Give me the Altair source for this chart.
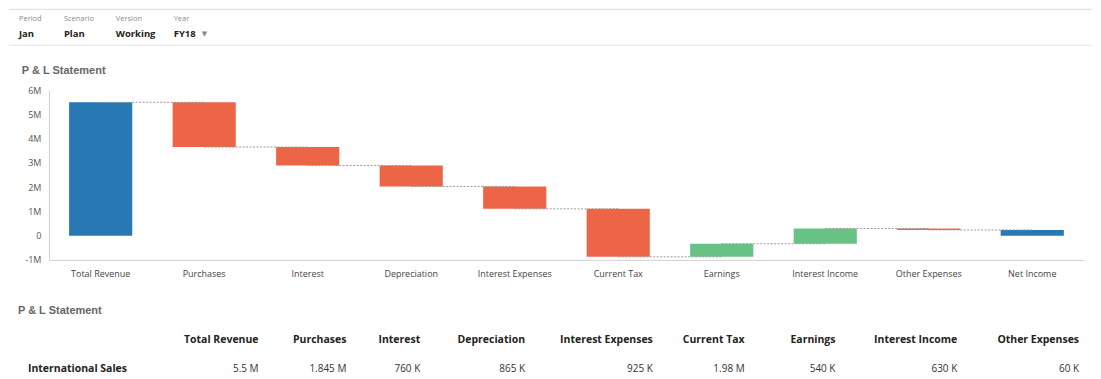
import altair as alt
import pandas as pd

# ---------------- data ----------------
hdr_labels = ["Period", "Scenario", "Version", "Year"]
hdr_values = ["Jan", "Plan", "Working", "FY18"]

categories = ["Total Revenue", "Purchases", "Interest", "Depreciation",
              "Interest Expenses", "Current Tax", "Earnings", "Interest Income",
              "Other Expenses", "Net Income"]
amounts = [5500000, -1845000, -760000, -865000, -925000, -1980000,
           540000, 630000, -60000, 0]
kinds = ["total", "dec", "dec", "dec", "dec", "dec", "inc", "inc", "dec", "total"]
y_ticks = [-1000000, 0, 1000000, 2000000, 3000000, 4000000, 5000000, 6000000]

table_cols = ["Total Revenue", "Purchases", "Interest", "Depreciation",
              "Interest Expenses", "Current Tax", "Earnings", "Interest Income",
              "Other Expenses"]
table_row = "International Sales"
table_vals = ["5.5 M", "1.845 M", "760 K", "865 K", "925 K", "1.98 M",
              "540 K", "630 K", "60 K"]

# ---------------- layout (page pixels) ----------------
PX = 48                      # page x of the plot-area origin
hdr_x = [18, 63, 115, 173]   # left edges of header items
tbl_right = [258, 346, 420, 525, 653, 745, 836, 958, 1080]  # right edges of table columns
ident = alt.Scale(domain=[0, 1000], range=[0, 1000])

# ---------------- derived tables ----------------
rows = []
run = 0
for i, (c, a, k) in enumerate(zip(categories, amounts, kinds)):
    if k == "total":
        start, end = 0, (a if i == 0 else run)
    else:
        start, end = run, run + a
    run = end
    nxt = categories[i + 1] if i + 1 < len(categories) else None
    rows.append({"cat": c, "start": start, "end": end, "kind": k, "next": nxt})
wf = pd.DataFrame(rows)
conn = wf[wf["next"].notna()]

# ---------------- header ----------------
hdr = pd.DataFrame({"label": hdr_labels, "value": hdr_values,
                    "px": [x - PX for x in hdr_x]})
HY_LABEL, HY_VALUE = 10, 25

h_lab = alt.Chart(hdr).transform_calculate(py=str(HY_LABEL)).mark_text(
    align="left", baseline="middle", fontSize=7.5, color="#8a8a8a", font="Open Sans"
).encode(x=alt.X("px:Q", scale=ident, axis=None),
         y=alt.Y("py:Q", scale=ident, axis=None), text="label:N")
h_val = alt.Chart(hdr).transform_calculate(py=str(HY_VALUE)).mark_text(
    align="left", baseline="middle", fontSize=9.5, fontWeight="bold", color="#222",
    font="Open Sans"
).encode(x=alt.X("px:Q", scale=ident, axis=None),
         y=alt.Y("py:Q", scale=ident, axis=None), text="value:N")
h_tri = alt.Chart(hdr[hdr["label"] == "Year"]).transform_calculate(
    py=str(HY_VALUE), tri="'▼'").mark_text(
    align="left", baseline="middle", fontSize=7, color="#8a8a8a", dx=28, font="DejaVu Sans"
).encode(x=alt.X("px:Q", scale=ident, axis=None),
         y=alt.Y("py:Q", scale=ident, axis=None), text="tri:N")
lines = pd.DataFrame({"pos": [0, 36]})
h_rule = alt.Chart(lines).mark_rule(color="#e2e2e2", strokeWidth=1.2).encode(
    y=alt.Y("pos:Q", scale=ident, axis=None),
    x=alt.value(8 - PX), x2=alt.value(1093 - PX))
header = alt.layer(h_rule, h_lab, h_val, h_tri).properties(width=1037, height=56)

# ---------------- waterfall ----------------
xs = alt.Scale(domain=categories, paddingInner=0.39, paddingOuter=0.195)
ys = alt.Scale(domain=[-1000000, 6000000], nice=False, zero=False)
color = alt.Scale(domain=["total", "dec", "inc"],
                  range=["#2878b4", "#ec6547", "#68c185"])
x_axis = alt.Axis(title=None, labelAngle=0, ticks=False, domainColor="#d0d0d0",
                  labelColor="#444", labelFontSize=9, labelFont="Open Sans",
                  labelPadding=10, labelOverlap=False)
y_axis = alt.Axis(title=None, values=y_ticks,
                  labelExpr="datum.value == 0 ? '0' : (datum.value / 1000000) + 'M'",
                  labelOverlap=False, grid=False, ticks=False,
                  domainColor="#d0d0d0", labelColor="#555", labelFontSize=9,
                  labelFont="Open Sans", labelPadding=8)

bars = alt.Chart(wf).mark_bar().encode(
    x=alt.X("cat:N", sort=categories, scale=xs, axis=x_axis),
    y=alt.Y("start:Q", scale=ys, axis=y_axis),
    y2="end:Q",
    color=alt.Color("kind:N", scale=color, legend=None),
)
rules = alt.Chart(conn).mark_rule(color="#9a9a9a", strokeDash=[2, 1.5], strokeWidth=1).encode(
    x=alt.X("cat:N", sort=categories, scale=xs, axis=x_axis),
    x2="next:N",
    y=alt.Y("end:Q", scale=ys, axis=y_axis),
)
waterfall = alt.layer(bars, rules).properties(
    width=1037, height=170,
    title=alt.TitleParams("P & L Statement", anchor="start", fontSize=11,
                          font="Liberation Sans", fontWeight="bold", color="#666",
                          offset=10, dx=-3),
)

# ---------------- table ----------------
TY_TITLE, TY_HEAD, TY_ROW = 32, 61, 90
tdf = pd.DataFrame({"col": table_cols, "val": table_vals,
                    "px": [r - PX for r in tbl_right]})

t_title = alt.Chart(pd.DataFrame({"t": ["P & L Statement"], "px": [17 - PX]})).transform_calculate(
    py=str(TY_TITLE)).mark_text(align="left", baseline="middle", fontSize=11, fontWeight="bold",
                                color="#666", font="Liberation Sans").encode(
    x=alt.X("px:Q", scale=ident, axis=None), y=alt.Y("py:Q", scale=ident, axis=None), text="t:N")
t_head = alt.Chart(tdf).transform_calculate(py=str(TY_HEAD)).mark_text(
    align="right", baseline="middle", fontSize=10.5, fontWeight="bold", color="#222",
    font="Open Sans").encode(
    x=alt.X("px:Q", scale=ident, axis=None), y=alt.Y("py:Q", scale=ident, axis=None), text="col:N")
t_rowh = alt.Chart(pd.DataFrame({"t": [table_row], "px": [27 - PX]})).transform_calculate(
    py=str(TY_ROW)).mark_text(align="left", baseline="middle", fontSize=10.5, fontWeight="bold",
                              color="#222", font="Open Sans").encode(
    x=alt.X("px:Q", scale=ident, axis=None), y=alt.Y("py:Q", scale=ident, axis=None), text="t:N")
t_vals = alt.Chart(tdf).transform_calculate(py=str(TY_ROW)).mark_text(
    align="right", baseline="middle", fontSize=10, color="#333", font="Open Sans").encode(
    x=alt.X("px:Q", scale=ident, axis=None), y=alt.Y("py:Q", scale=ident, axis=None), text="val:N")
table = alt.layer(t_title, t_head, t_rowh, t_vals).properties(width=1037, height=96)

chart = alt.vconcat(header, waterfall, table, spacing=0).properties(
    padding=0, background="white"
).configure_view(stroke=None).configure_axis(labelOverlap=False).resolve_scale(
    x="independent", y="independent")

chart.save("out.html", embed_options={"renderer": "svg", "actions": False})
